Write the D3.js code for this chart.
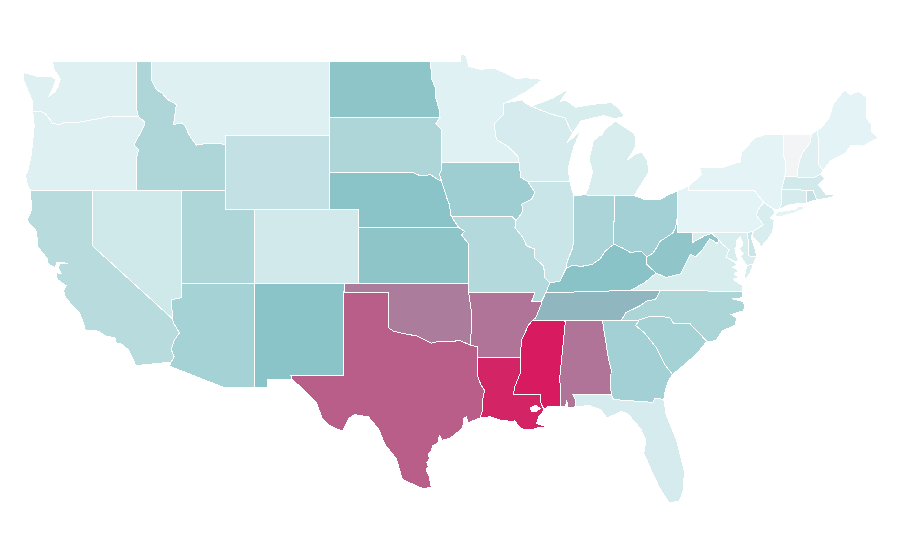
<!DOCTYPE html>
<html>
<head>
<meta charset="utf-8">
<script src="https://d3js.org/d3.v7.min.js"></script>
<style>
body { margin: 0; background: #fff; }
.state { stroke: #fff; stroke-width: 1; shape-rendering: crispEdges; fill-rule: evenodd; }
</style>
</head>
<body>
<script>
//state names
var stateNames = ["WA","OR","CA","ID","NV","MT","WY","UT","AZ","CO","NM","ND","SD","NE","KS","OK","TX","MN","IA","MO","AR","LA","WI","IL","MS","MI","IN","KY","TN","AL","OH","WV","VA","NC","SC","GA","FL","PA","NY","NJ","DE","MD","CT","RI","MA","VT","NH","ME"];

//index, same order as stateNames
var stateValues = [9.5,9.5,28,33,17,9.5,23,33,37,16,49.5,48,33,49.5,48,71,80,9,40,30,73.5,97,14,20,100,13,35,50,54,73.5,38,47,13,34,37,38,14,7,7,13,20,13,14,23,16,0,9.5,7];

//colour stops
var colorDomain = [0, 1, 50, 100];
var colorRange = ["#f3f4f6", "#f1fafb", "#8ac3c7", "#d81b60"];

//outlines as lon/lat rings, same order as stateNames
var stateRings = [
  //WA
  [[[-117.03,49],[-122.7,49],[-122.65,48.6],[-122.4,48.3],[-122.2,48],[-122.35,47.6],[-122.55,47.35],[-122.85,47.15],[-122.95,47.1],[-122.75,47.4],[-122.6,47.7],[-122.5,48],[-122.8,48.15],[-123.2,48.15],[-123.7,48.17],[-124.7,48.38],[-124.65,47.95],[-124.35,47.35],[-124.1,46.9],[-124.05,46.27],[-123.5,46.27],[-123.2,46.15],[-122.85,45.8],[-122.75,45.65],[-122.3,45.55],[-121.9,45.67],[-121.2,45.65],[-120.65,45.73],[-119.95,45.83],[-119.3,45.93],[-119,46],[-116.92,46],[-117.04,46.4]]],
  //OR
  [[[-124.05,46.27],[-123.5,46.27],[-123.2,46.15],[-122.85,45.8],[-122.75,45.65],[-122.3,45.55],[-121.9,45.67],[-121.2,45.65],[-120.65,45.73],[-119.95,45.83],[-119.3,45.93],[-119,46],[-116.92,46],[-116.55,45.75],[-116.47,45.6],[-116.65,45.3],[-116.85,45],[-117.05,44.75],[-117.2,44.45],[-116.9,44.2],[-117.03,43.8],[-117.03,42],[-124.2,42],[-124.4,42.3],[-124.55,42.84],[-124.4,43],[-124.15,43.9],[-124.05,44.7],[-123.95,45.5]]],
  //CA
  [[[-124.2,42],[-120,42],[-120,39],[-114.6,35.05],[-114.55,34.85],[-114.15,34.3],[-114.5,33.9],[-114.7,33.4],[-114.5,33],[-114.72,32.72],[-117.12,32.53],[-117.25,32.85],[-117.6,33.4],[-118.1,33.72],[-118.4,33.75],[-118.5,34.03],[-119.2,34.15],[-119.6,34.4],[-120.5,34.45],[-120.65,34.9],[-120.9,35.4],[-121.3,35.7],[-121.9,36.3],[-121.95,36.6],[-121.8,36.85],[-122,36.97],[-122.4,37.2],[-122.5,37.7],[-122.3,37.5],[-122.1,37.5],[-122.35,37.85],[-122.2,38.03],[-121.7,38.07],[-122.2,38.1],[-122.45,38.1],[-122.5,37.83],[-123,38],[-123.05,38.3],[-123.7,38.95],[-123.8,39.8],[-124.35,40.3],[-124.4,40.45],[-124.1,41],[-124.2,41.75]]],
  //ID
  [[[-117.03,49],[-116.05,49],[-116.05,48],[-115.7,47.45],[-115.3,47.25],[-114.95,46.92],[-114.35,46.65],[-114.45,46.1],[-114.55,45.57],[-114,45.65],[-113.8,45.52],[-113.45,44.95],[-113,44.45],[-112.3,44.55],[-111.5,44.55],[-111.05,44.48],[-111.05,42],[-117.03,42],[-117.03,43.8],[-116.9,44.2],[-117.2,44.45],[-117.05,44.75],[-116.85,45],[-116.65,45.3],[-116.47,45.6],[-116.55,45.75],[-116.92,46],[-117.04,46.4]]],
  //NV
  [[[-120,42],[-114.04,42],[-114.04,36.2],[-114.7,36.1],[-114.6,35.05],[-120,39]]],
  //MT
  [[[-116.05,49],[-104.05,49],[-104.05,45],[-111.05,45],[-111.05,44.48],[-111.5,44.55],[-112.3,44.55],[-113,44.45],[-113.45,44.95],[-113.8,45.52],[-114,45.65],[-114.55,45.57],[-114.45,46.1],[-114.35,46.65],[-114.95,46.92],[-115.3,47.25],[-115.7,47.45],[-116.05,48]]],
  //WY
  [[[-111.05,45],[-104.05,45],[-104.05,41],[-111.05,41]]],
  //UT
  [[[-114.04,42],[-111.05,42],[-111.05,41],[-109.05,41],[-109.05,37],[-114.04,37]]],
  //AZ
  [[[-114.04,37],[-109.05,37],[-109.05,31.33],[-111.07,31.33],[-114.8,32.5],[-114.72,32.72],[-114.5,33],[-114.7,33.4],[-114.5,33.9],[-114.15,34.3],[-114.55,34.85],[-114.6,35.05],[-114.7,36.1],[-114.04,36.2]]],
  //CO
  [[[-109.05,41],[-102.05,41],[-102.05,37],[-109.05,37]]],
  //NM
  [[[-109.05,37],[-103,37],[-103.04,36.5],[-103.05,32],[-106.62,32],[-106.53,31.78],[-108.2,31.78],[-108.2,31.33],[-109.05,31.33]]],
  //ND
  [[[-104.05,49],[-97.23,49],[-97.15,48.5],[-97.1,48],[-96.85,47.5],[-96.85,47],[-96.6,46.35],[-96.55,45.93],[-104.05,45.94]]],
  //SD
  [[[-104.05,45.94],[-96.55,45.93],[-96.85,45.6],[-96.45,45.3],[-96.45,43.5],[-96.45,43.1],[-96.6,42.9],[-96.45,42.49],[-96.7,42.6],[-97.2,42.85],[-97.9,42.8],[-98.5,43],[-104.05,43]]],
  //NE
  [[[-104.05,43],[-98.5,43],[-97.9,42.8],[-97.2,42.85],[-96.7,42.6],[-96.45,42.49],[-96.25,42],[-96.1,41.6],[-95.9,41.2],[-95.85,40.7],[-95.77,40.58],[-95.3,40],[-102.05,40],[-102.05,41],[-104.05,41]]],
  //KS
  [[[-102.05,40],[-95.3,40],[-94.9,39.8],[-95.1,39.6],[-94.62,39.1],[-94.62,37],[-102.05,37]]],
  //OK
  [[[-103,37],[-94.62,37],[-94.62,36.5],[-94.43,35.4],[-94.48,33.64],[-95.2,33.88],[-95.8,33.85],[-96.6,33.85],[-97.15,33.75],[-97.7,33.98],[-98.1,34.13],[-99.2,34.3],[-99.7,34.4],[-100,34.56],[-100,36.5],[-103.04,36.5]]],
  //TX
  [[[-103.04,36.5],[-100,36.5],[-100,34.56],[-99.7,34.4],[-99.2,34.3],[-98.1,34.13],[-97.7,33.98],[-97.15,33.75],[-96.6,33.85],[-95.8,33.85],[-95.2,33.88],[-94.48,33.64],[-94.04,33.55],[-94.04,33],[-94.04,32],[-93.8,31.5],[-93.55,31.2],[-93.7,30.6],[-93.7,30.1],[-93.85,29.7],[-94.35,29.55],[-94.7,29.4],[-94.75,29.78],[-94.95,29.7],[-94.95,29.4],[-95.1,29.1],[-95.9,28.6],[-96.4,28.5],[-96.6,28.75],[-96.7,28.35],[-97.05,28.2],[-97.2,27.85],[-97.35,27.75],[-97.25,27.5],[-97.45,27.3],[-97.35,27.05],[-97.5,26.9],[-97.3,26.6],[-97.15,25.96],[-97.65,25.88],[-98.2,26.05],[-99.1,26.4],[-99.5,27.5],[-100.3,28.3],[-100.7,29.1],[-101.4,29.77],[-102.3,29.88],[-102.7,29.7],[-103.15,28.98],[-104,29.3],[-104.5,29.65],[-104.9,30.55],[-106,31.4],[-106.53,31.78],[-106.62,32],[-103.05,32]]],
  //MN
  [[[-97.23,49],[-95.15,49],[-95.15,49.38],[-94.8,49.3],[-94.6,48.7],[-93.8,48.55],[-92.95,48.62],[-92,48.3],[-91.4,48.05],[-90.75,48.1],[-89.6,48],[-90.8,47.3],[-92.1,46.75],[-92.3,46.66],[-92.3,46.1],[-92.9,45.6],[-92.75,44.75],[-92,44.4],[-91.3,43.85],[-91.22,43.5],[-96.45,43.5],[-96.45,45.3],[-96.85,45.6],[-96.55,45.93],[-96.6,46.35],[-96.85,47],[-96.85,47.5],[-97.1,48],[-97.15,48.5]]],
  //IA
  [[[-96.45,43.5],[-91.22,43.5],[-91.1,42.7],[-90.65,42.5],[-90.15,41.9],[-90.35,41.55],[-91.05,41.25],[-90.95,40.95],[-91.1,40.7],[-91.42,40.38],[-91.73,40.61],[-95.77,40.58],[-95.85,40.7],[-95.9,41.2],[-96.1,41.6],[-96.25,42],[-96.45,42.49],[-96.6,42.9],[-96.45,43.1]]],
  //MO
  [[[-95.77,40.58],[-91.73,40.61],[-91.42,40.38],[-91.5,40],[-91,39.5],[-90.7,39],[-90.2,38.85],[-90.2,38.4],[-89.55,37.9],[-89.5,37.3],[-89.15,37],[-89.4,36.5],[-89.7,36],[-90.37,36],[-90.15,36.5],[-94.62,36.5],[-94.62,39.1],[-95.1,39.6],[-94.9,39.8],[-95.3,40]]],
  //AR
  [[[-94.62,36.5],[-90.15,36.5],[-90.37,36],[-89.7,36],[-89.7,35.9],[-90.1,35.1],[-90.3,35],[-90.6,34.7],[-91.05,33.9],[-91.15,33],[-94.04,33],[-94.04,33.55],[-94.48,33.64],[-94.43,35.4]]],
  //LA, second ring is lake Pontchartrain
  [[[-94.04,33],[-91.15,33],[-91.1,32.2],[-91.5,31.4],[-91.6,31],[-89.75,31],[-89.8,30.6],[-89.55,30.18],[-89.65,29.97],[-89.9,29.75],[-90.05,29.4],[-89.6,29.3],[-89.27,29.1],[-89.6,29.2],[-90.1,29.15],[-90.2,29.1],[-90.9,29.05],[-91.3,29.3],[-91.5,29.55],[-91.85,29.5],[-92.1,29.6],[-92.3,29.55],[-93.2,29.77],[-93.85,29.7],[-93.7,30.1],[-93.7,30.6],[-93.55,31.2],[-93.8,31.5],[-94.04,32]],
   [[-90.45,30.25],[-90.1,30.38],[-89.8,30.22],[-90.1,30.03],[-90.4,30.08]]],
  //WI
  [[[-92.3,46.66],[-92.1,46.75],[-91,46.9],[-90.75,46.7],[-90.4,46.55],[-89.1,46.14],[-88.1,45.92],[-87.8,45.35],[-87.6,45.1],[-88,44.55],[-87.05,45.28],[-87.55,44.3],[-87.9,43.2],[-87.8,42.5],[-90.65,42.5],[-91.1,42.7],[-91.22,43.5],[-91.3,43.85],[-92,44.4],[-92.75,44.75],[-92.9,45.6],[-92.3,46.1]]],
  //IL
  [[[-90.65,42.5],[-87.8,42.5],[-87.53,41.72],[-87.53,39.35],[-87.6,38.9],[-87.95,38.2],[-88.05,37.8],[-88.45,37.1],[-89.15,37],[-89.5,37.3],[-89.55,37.9],[-90.2,38.4],[-90.2,38.85],[-90.7,39],[-91,39.5],[-91.5,40],[-91.42,40.38],[-91.1,40.7],[-90.95,40.95],[-91.05,41.25],[-90.35,41.55],[-90.15,41.9]]],
  //MS
  [[[-90.3,35],[-88.2,35],[-88.1,34.9],[-88.47,31.9],[-88.4,30.35],[-89.3,30.3],[-89.55,30.18],[-89.8,30.6],[-89.75,31],[-91.6,31],[-91.5,31.4],[-91.1,32.2],[-91.15,33],[-91.05,33.9],[-90.6,34.7]]],
  //MI, lower then upper peninsula
  [[[-86.8,41.76],[-84.8,41.72],[-83.45,41.73],[-83.15,42.1],[-82.45,43],[-82.55,43.6],[-82.93,44.07],[-83.4,43.95],[-83.9,43.65],[-83.55,44.1],[-83.35,44.4],[-83.4,45.05],[-84.75,45.78],[-85.5,45.2],[-85.6,45],[-85.8,44.95],[-86.2,44.7],[-86.5,43.7],[-86.25,43],[-86.6,42]],
   [[-90.4,46.55],[-89.1,46.14],[-88.1,45.92],[-87.8,45.35],[-87.6,45.1],[-87.05,45.75],[-86.3,45.9],[-85.5,46.05],[-84.75,45.88],[-84.1,46],[-84.5,46.45],[-85,46.75],[-86.1,46.67],[-87.4,46.5],[-88.1,46.9],[-88.45,46.8],[-87.9,47.47],[-89,46.98]]],
  //IN
  [[[-87.53,41.72],[-87.2,41.75],[-86.8,41.76],[-84.8,41.72],[-84.82,39.1],[-85.4,38.73],[-85.75,38.3],[-86.3,38],[-87,37.9],[-87.6,37.95],[-88.05,37.8],[-87.95,38.2],[-87.6,38.9],[-87.53,39.35]]],
  //KY
  [[[-89.4,36.5],[-89.15,37],[-88.45,37.1],[-88.05,37.8],[-87.6,37.95],[-87,37.9],[-86.3,38],[-85.75,38.3],[-85.4,38.73],[-84.82,39.1],[-84.25,38.9],[-83.7,38.65],[-83,38.72],[-82.6,38.42],[-82.6,38],[-81.97,37.54],[-82.7,37.05],[-83.68,36.6],[-88.07,36.5]]],
  //TN
  [[[-89.7,36],[-89.4,36.5],[-88.07,36.5],[-83.68,36.6],[-81.68,36.59],[-82,36.12],[-82.6,36.03],[-83.1,35.75],[-84,35.4],[-84.32,34.99],[-90.3,35],[-90.1,35.1],[-89.7,35.9]]],
  //AL
  [[[-88.2,35],[-85.6,35],[-85.18,32.87],[-85,32.3],[-85.05,31.55],[-85,31],[-87.6,31],[-87.4,30.65],[-87.45,30.3],[-87.9,30.25],[-88,30.65],[-88.1,30.3],[-88.4,30.35],[-88.47,31.9],[-88.1,34.9]]],
  //OH
  [[[-84.8,41.72],[-83.45,41.73],[-82.7,41.5],[-81.7,41.5],[-81.2,41.75],[-80.52,41.98],[-80.52,40.64],[-80.65,40],[-80.85,39.7],[-81.7,39.25],[-81.95,38.9],[-82.2,38.6],[-82.6,38.42],[-83,38.72],[-83.7,38.65],[-84.25,38.9],[-84.82,39.1]]],
  //WV
  [[[-82.6,38.42],[-82.2,38.6],[-81.95,38.9],[-81.7,39.25],[-80.85,39.7],[-80.65,40],[-80.52,40.64],[-80.52,39.72],[-79.48,39.72],[-79.48,39.2],[-78.7,39.55],[-78.2,39.68],[-77.72,39.32],[-77.83,39.13],[-78.35,39.4],[-78.87,38.77],[-79.3,38.42],[-79.65,38.55],[-80,38],[-80.3,37.5],[-81.3,37.3],[-81.97,37.54],[-82.6,38]]],
  //VA, mainland then eastern shore
  [[[-83.68,36.6],[-82.7,37.05],[-81.97,37.54],[-81.3,37.3],[-80.3,37.5],[-80,38],[-79.65,38.55],[-79.3,38.42],[-78.87,38.77],[-78.35,39.4],[-77.83,39.13],[-77.72,39.32],[-77.5,39.1],[-77.05,38.8],[-77.25,38.4],[-76.95,38.27],[-76.5,38],[-76.8,37.85],[-76.35,37.65],[-76.7,37.5],[-76.4,37.3],[-76.75,37.2],[-76.4,36.98],[-76.15,36.9],[-76.1,36.55],[-81.68,36.59]],
   [[-76.05,37.12],[-75.95,37.6],[-75.85,37.95],[-75.4,38.03],[-75.65,37.5]]],
  //NC
  [[[-84.32,34.99],[-84,35.4],[-83.1,35.75],[-82.6,36.03],[-82,36.12],[-81.68,36.59],[-76.1,36.55],[-76.15,36.2],[-76.85,36.15],[-76.1,36],[-76,35.8],[-76.05,35.5],[-76.9,35.3],[-76.55,35.1],[-76.6,34.75],[-77.5,34.4],[-77.95,33.87],[-78.55,33.85],[-79.68,34.8],[-80.8,34.82],[-81.05,35.15],[-82.4,35.2],[-83.11,35]]],
  //SC
  [[[-83.35,34.7],[-83.11,35],[-82.4,35.2],[-81.05,35.15],[-80.8,34.82],[-79.68,34.8],[-78.55,33.85],[-79.2,33.2],[-79.9,32.7],[-80.85,32.05],[-81.4,32.6],[-81.95,33.5],[-82.75,34.3]]],
  //GA
  [[[-85.6,35],[-83.11,35],[-83.35,34.7],[-82.75,34.3],[-81.95,33.5],[-81.4,32.6],[-80.85,32.05],[-81.15,31.7],[-81.35,31.2],[-81.45,30.72],[-82.05,30.75],[-82.2,30.55],[-84.85,30.7],[-85,31],[-85.05,31.55],[-85,32.3],[-85.18,32.87]]],
  //FL
  [[[-87.6,31],[-85,31],[-84.85,30.7],[-82.2,30.55],[-82.05,30.75],[-81.45,30.72],[-81.3,29.9],[-80.55,28.4],[-80.05,26.8],[-80.15,25.75],[-80.4,25.2],[-81.1,25.12],[-81.75,25.95],[-82.2,26.7],[-82.8,27.8],[-82.65,28.5],[-83,29.1],[-83.9,29.95],[-84.3,30.05],[-85.3,29.7],[-85.7,30.15],[-86.5,30.38],[-87.45,30.3],[-87.4,30.65]]],
  //PA
  [[[-80.52,41.98],[-79.76,42.27],[-79.76,42],[-75.35,42],[-74.7,41.36],[-75.1,40.95],[-75.2,40.65],[-74.72,40.15],[-75.4,39.8],[-75.79,39.72],[-80.52,39.72]]],
  //NY, mainland then long island
  [[[-79.76,42],[-79.76,42.27],[-78.9,42.85],[-79.05,43.27],[-77.5,43.25],[-76.3,43.55],[-76.2,44.05],[-75.3,44.85],[-74.7,45],[-73.35,45.01],[-73.4,44],[-73.25,43.6],[-73.27,42.75],[-73.5,42.05],[-73.5,41.3],[-73.65,41],[-73.9,40.95],[-74.05,41],[-74.7,41.36],[-75.35,42]],
   [[-74,40.58],[-73.75,40.85],[-72.6,40.98],[-72.3,41.15],[-71.87,41.07],[-72.6,40.8],[-73.6,40.58]]],
  //NJ
  [[[-74.7,41.36],[-74.05,41],[-73.95,40.75],[-74.25,40.5],[-74,40.4],[-74.1,39.75],[-74.4,39.4],[-74.9,38.93],[-75.05,39.2],[-75.5,39.5],[-75.4,39.8],[-74.72,40.15],[-75.2,40.65],[-75.1,40.95]]],
  //DE
  [[[-75.79,39.72],[-75.4,39.8],[-75.55,39.5],[-75.4,39.1],[-75.15,38.45],[-75.7,38.46]]],
  //MD
  [[[-79.48,39.72],[-75.79,39.72],[-75.7,38.46],[-75.15,38.45],[-75.4,38.03],[-75.85,37.95],[-76.1,38.25],[-76.3,38.45],[-76.1,38.6],[-76.35,38.85],[-76.1,39.1],[-76.3,39.5],[-76.55,39.25],[-76.5,39.05],[-76.65,38.85],[-76.55,38.45],[-76.4,38.25],[-76.6,38.15],[-76.95,38.27],[-77.25,38.4],[-77.05,38.8],[-77.5,39.1],[-77.72,39.32],[-78.2,39.68],[-78.7,39.55],[-79.48,39.2]]],
  //CT
  [[[-73.5,42.05],[-71.8,42.02],[-71.85,41.32],[-72.9,41.25],[-73.65,41],[-73.5,41.3]]],
  //RI
  [[[-71.8,42.02],[-71.38,42.02],[-71.12,41.5],[-71.4,41.45],[-71.85,41.32]]],
  //MA
  [[[-73.5,42.05],[-73.27,42.75],[-72.46,42.73],[-71.3,42.7],[-70.85,42.88],[-70.6,42.65],[-71,42.3],[-70.65,41.95],[-70.5,41.78],[-70,41.8],[-70.2,42.07],[-69.95,41.67],[-70.65,41.55],[-71.12,41.5],[-71.38,42.02],[-71.8,42.02]]],
  //VT
  [[[-73.35,45.01],[-71.5,45.01],[-71.55,44.6],[-72.05,44.1],[-72.3,43.6],[-72.45,43],[-72.46,42.73],[-73.27,42.75],[-73.25,43.6],[-73.4,44]]],
  //NH
  [[[-71.5,45.01],[-71.08,45.3],[-71,44.5],[-70.98,43.4],[-70.7,43.07],[-70.85,42.88],[-71.3,42.7],[-72.46,42.73],[-72.45,43],[-72.3,43.6],[-72.05,44.1],[-71.55,44.6]]],
  //ME
  [[[-71.08,45.3],[-70.8,45.4],[-70.3,45.9],[-70,46.7],[-69.23,47.46],[-68.9,47.18],[-68.3,47.35],[-67.8,47.07],[-67.78,45.9],[-67.45,45.6],[-67.45,45.2],[-67,44.85],[-68,44.4],[-68.8,44.45],[-69.2,44],[-70.2,43.6],[-70.7,43.07],[-70.98,43.4],[-71,44.5]]]
];

//begin script when window loads
window.onload = setMap();

function setMap(){

    //map frame dimensions
    var width = 900,
        height = 560;

    //create new svg container for the map
    var map = d3.select("body")
        .append("svg")
        .attr("class", "map")
        .attr("width", width)
        .attr("height", height);

    //flat lon/lat projection, stretched north-south like the reference
    var x = d3.scaleLinear().domain([-111.05, -104.05]).range([225.3, 329]),
        y = d3.scaleLinear().domain([49, 37]).range([61, 283]);

    var projection = d3.geoTransform({
        point: function(lon, lat){
            this.stream.point(x(lon), y(lat));
        }
    });

    var path = d3.geoPath()
        .projection(projection);

    var colorScale = d3.scaleLinear()
        .domain(colorDomain)
        .range(colorRange);

    //join names, values and outlines into features
    var states = stateNames.map(function(name, i){
        return {
            type: "Feature",
            properties: { name: name, value: stateValues[i] },
            geometry: { type: "MultiPolygon", coordinates: toPolygons(name, stateRings[i]) }
        };
    });

    //add enumeration units to the map
    map.selectAll(".state")
        .data(states)
        .enter()
        .append("path")
        .attr("class", function(d){ return "state " + d.properties.name; })
        .attr("d", path)
        .style("fill", function(d){ return colorScale(d.properties.value); });
}; //end of setMap()

//geojson rings have to repeat their first point
function closeRing(r){
    return r.concat([r[0]]);
}

//LA has a lake hole, everything else is separate parts
function toPolygons(name, rings){
    var closed = rings.map(closeRing);
    if (name == "LA") return [closed];
    return closed.map(function(r){ return [r]; });
}
</script>
</body>
</html>
